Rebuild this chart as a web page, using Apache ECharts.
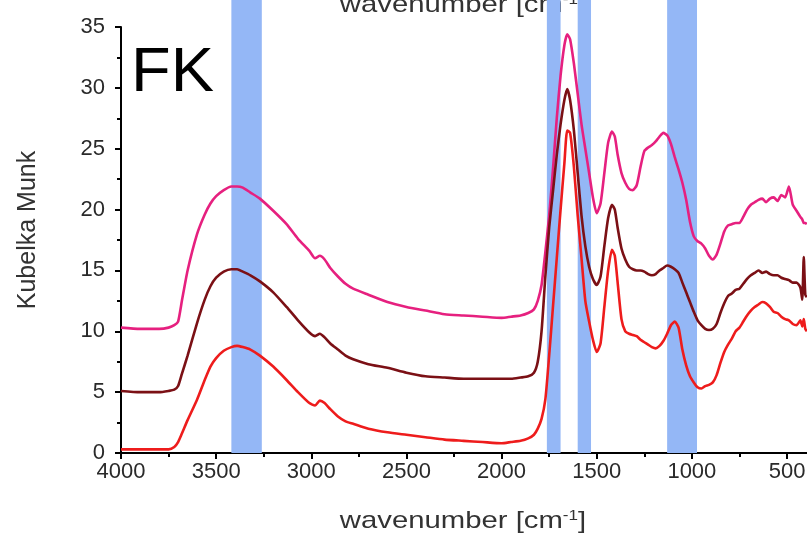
<!DOCTYPE html>
<html>
<head>
<meta charset="utf-8">
<script src="https://cdn.jsdelivr.net/npm/echarts@6/dist/echarts.min.js"></script>
<style>
  html, body { margin: 0; padding: 0; background: #fff; }
  #chart { width: 807px; height: 535px; }
</style>
</head>
<body>
<div id="chart"></div>
<script>
// wavenumber grid shared by the three spectra (cm-1)
const wavenumbers = [4000, 3900, 3800, 3750, 3720, 3700, 3680, 3650, 3600, 3560, 3530, 3500, 3460, 3420, 3390, 3360, 3320, 3270, 3200, 3130, 3070, 3010, 2980, 2955, 2930, 2900, 2860, 2820, 2780, 2700, 2600, 2500, 2400, 2300, 2200, 2100, 2000, 1950, 1900, 1860, 1830, 1810, 1790, 1770, 1750, 1730, 1710, 1690, 1670, 1655, 1640, 1620, 1600, 1580, 1560, 1540, 1520, 1500, 1480, 1460, 1440, 1420, 1405, 1390, 1370, 1350, 1330, 1310, 1290, 1270, 1250, 1230, 1210, 1190, 1170, 1150, 1130, 1110, 1090, 1070, 1050, 1030, 1010, 990, 970, 950, 930, 910, 890, 870, 850, 830, 810, 790, 770, 750, 730, 710, 690, 670, 650, 630, 610, 590, 570, 550, 530, 510, 490, 470, 450, 430, 420, 412, 404, 396];

// top spectrum (pink)
const pinkValues = [10.3, 10.2, 10.2, 10.3, 10.5, 10.8, 12.5, 15.0, 18.0, 19.6, 20.5, 21.1, 21.6, 21.9, 21.9, 21.8, 21.4, 20.9, 19.9, 18.8, 17.6, 16.6, 16.0, 16.2, 15.9, 15.2, 14.5, 13.9, 13.5, 13.0, 12.4, 12.0, 11.7, 11.4, 11.3, 11.2, 11.1, 11.2, 11.3, 11.5, 11.8, 12.5, 13.8, 16.5, 19.5, 23.3, 27.5, 31.0, 33.5, 34.4, 34.0, 32.0, 29.5, 27.0, 25.0, 23.0, 21.0, 19.7, 20.5, 23.0, 25.5, 26.4, 26.0, 24.5, 23.0, 22.2, 21.7, 21.6, 22.0, 23.5, 24.8, 25.1, 25.3, 25.6, 26.0, 26.3, 26.1, 25.4, 24.3, 23.3, 22.2, 20.8, 19.0, 17.8, 17.4, 17.2, 16.8, 16.2, 15.9, 16.3, 17.2, 18.2, 18.7, 18.8, 18.9, 18.9, 19.4, 20.0, 20.4, 20.6, 20.8, 20.9, 20.6, 20.9, 21.0, 20.7, 21.2, 21.0, 21.9, 20.4, 19.9, 19.4, 19.2, 18.9, 18.9, 18.8];

// middle spectrum (dark red)
const darkRedValues = [5.1, 5.0, 5.0, 5.1, 5.2, 5.5, 6.5, 8.0, 10.7, 12.6, 13.7, 14.4, 14.9, 15.1, 15.1, 14.9, 14.6, 14.1, 13.2, 12.0, 10.9, 9.9, 9.6, 9.8, 9.5, 9.0, 8.5, 8.0, 7.7, 7.3, 7.0, 6.6, 6.3, 6.2, 6.1, 6.1, 6.1, 6.1, 6.2, 6.3, 6.6, 7.5, 10.0, 14.5, 18.5, 21.5, 24.5, 27.0, 29.0, 29.9, 29.0, 26.5, 23.0, 19.5, 17.0, 15.3, 14.3, 13.8, 14.5, 17.0, 19.3, 20.4, 20.0, 18.5, 16.8, 15.9, 15.3, 15.1, 15.0, 15.0, 14.9, 14.7, 14.6, 14.7, 15.0, 15.2, 15.4, 15.3, 15.1, 14.8, 14.0, 13.2, 12.4, 11.6, 10.9, 10.5, 10.2, 10.1, 10.2, 10.6, 11.5, 12.3, 12.9, 13.1, 13.4, 13.5, 13.9, 14.3, 14.6, 14.8, 15.0, 14.8, 14.9, 14.7, 14.6, 14.6, 14.4, 14.3, 14.2, 14.0, 14.0, 13.6, 12.6, 16.1, 13.0, 12.8];

// bottom spectrum (red)
const redValues = [0.3, 0.3, 0.3, 0.3, 0.5, 0.9, 1.6, 2.7, 4.4, 6.0, 7.1, 7.8, 8.4, 8.7, 8.8, 8.7, 8.5, 8.0, 7.1, 6.0, 5.0, 4.1, 3.9, 4.3, 4.1, 3.6, 3.0, 2.6, 2.4, 2.0, 1.7, 1.5, 1.3, 1.1, 1.0, 0.9, 0.8, 0.9, 1.0, 1.2, 1.5, 2.0, 2.8, 4.4, 8.0, 12.0, 16.0, 20.0, 23.8, 26.5, 26.3, 23.5, 19.5, 16.0, 12.5, 10.8, 9.3, 8.3, 9.0, 12.0, 15.0, 16.7, 16.2, 14.0, 11.0, 10.0, 9.8, 9.7, 9.6, 9.3, 9.1, 8.9, 8.7, 8.6, 8.8, 9.2, 9.8, 10.5, 10.8, 10.3, 8.5, 7.2, 6.3, 5.8, 5.4, 5.3, 5.5, 5.6, 5.8, 6.4, 7.4, 8.3, 8.9, 9.4, 10.0, 10.3, 10.8, 11.3, 11.7, 12.0, 12.2, 12.4, 12.3, 12.0, 11.6, 11.5, 11.2, 11.0, 10.9, 10.6, 10.5, 10.9, 10.4, 11.0, 10.2, 10.0];

// highlighted bands [from, to] in cm-1
const bands = [[3420, 3260], [1762, 1690], [1600, 1530], [1130, 973]];

const xMajorTicks = [500, 1000, 1500, 2000, 2500, 3000, 3500, 4000];
const xMinorTicks = [750, 1250, 1750, 2250, 2750, 3250, 3750];

const xMin = 395;
const xMax = 4000;

const pair = (vals) => wavenumbers.map((w, i) => [w, vals[i]]);

const myChart = echarts.init(document.getElementById("chart"));

const labelFont = "'Liberation Sans', Arial, sans-serif";

const option = {
  animation: false,
  grid: [
    { left: 121, right: 0, top: 27, bottom: 82, outerBoundsMode: "none", containLabel: false },
    { left: 121, right: 0, top: 0, bottom: 82, outerBoundsMode: "none", containLabel: false },
  ],
  xAxis: [
    {
      gridIndex: 0,
      type: "value",
      min: xMin,
      max: xMax,
      inverse: true,
      splitLine: { show: false },
      axisLine: { lineStyle: { color: "#000", width: 2 } },
      axisTick: {
        customValues: xMajorTicks,
        length: 6,
        lineStyle: { color: "#000", width: 2 },
      },
      axisLabel: {
        customValues: xMajorTicks,
        formatter: (v) => String(v),
        color: "#2a2a2a",
        fontSize: 22,
        fontFamily: labelFont,
        margin: 8,
      },
    },
    {
      // minor ticks only
      gridIndex: 0,
      type: "value",
      min: xMin,
      max: xMax,
      inverse: true,
      position: "bottom",
      splitLine: { show: false },
      axisLine: { show: false },
      axisTick: {
        customValues: xMinorTicks,
        length: 4,
        lineStyle: { color: "#000", width: 2 },
      },
      axisLabel: { show: false },
    },
    {
      gridIndex: 1,
      type: "value",
      min: xMin,
      max: xMax,
      inverse: true,
      show: false,
    },
  ],
  yAxis: [
    {
      gridIndex: 0,
      type: "value",
      min: 0,
      max: 35,
      interval: 5,
      splitLine: { show: false },
      axisLine: { show: true, lineStyle: { color: "#000", width: 2 } },
      axisTick: { show: true, length: 6, lineStyle: { color: "#000", width: 2 } },
      minorTick: { show: true, splitNumber: 2, length: 4, lineStyle: { color: "#000", width: 2 } },
      axisLabel: {
        color: "#2a2a2a",
        fontSize: 22,
        fontFamily: labelFont,
        margin: 16,
      },
    },
    {
      // band area reaches the top of the picture, above 35
      gridIndex: 1,
      type: "value",
      min: 0,
      max: (35 * 453) / 426,
      show: false,
    },
  ],
  series: [
    {
      type: "line",
      xAxisIndex: 2,
      yAxisIndex: 1,
      data: [],
      silent: true,
      z: 1,
      markArea: {
        silent: true,
        itemStyle: { color: "#94b7f6", opacity: 1 },
        data: bands.map((b) => [{ xAxis: b[0] }, { xAxis: b[1] }]),
      },
    },
    {
      name: "FK top",
      type: "line",
      data: pair(pinkValues),
      showSymbol: false,
      smooth: 0.2,
      z: 4,
      lineStyle: { color: "#e6207f", width: 2.6 },
    },
    {
      name: "FK middle",
      type: "line",
      data: pair(darkRedValues),
      showSymbol: false,
      smooth: 0.2,
      z: 4,
      lineStyle: { color: "#7b1015", width: 2.6 },
    },
    {
      name: "FK bottom",
      type: "line",
      data: pair(redValues),
      showSymbol: false,
      smooth: 0.2,
      z: 4,
      lineStyle: { color: "#ee1c1c", width: 2.6 },
    },
  ],
  graphic: [
    {
      type: "text",
      x: 131,
      y: 105,
      scaleX: 1.03,
      z: 10,
      style: {
        text: "FK",
        font: "63px 'Liberation Sans', Arial, sans-serif",
        fill: "#000",
        verticalAlign: "bottom",
      },
    },
    {
      type: "text",
      x: 28,
      y: 230,
      rotation: Math.PI / 2,
      z: 10,
      style: {
        text: "Kubelka Munk",
        font: "25px 'Liberation Sans', Arial, sans-serif",
        fill: "#333",
        align: "center",
        verticalAlign: "middle",
      },
    },
    {
      type: "text",
      x: 463,
      y: 521,
      scaleX: 1.22,
      z: 10,
      style: {
        text: "{a|wavenumber [cm}{s|-1}{a|]}",
        fill: "#333",
        align: "center",
        verticalAlign: "middle",
        rich: {
          a: { fontSize: 24, fontFamily: labelFont, color: "#333" },
          s: { fontSize: 14, fontFamily: labelFont, color: "#333", verticalAlign: "top" },
        },
      },
    },
    {
      type: "text",
      x: 463,
      y: 5,
      scaleX: 1.22,
      z: 0,
      style: {
        text: "{a|wavenumber [cm}{s|-1}{a|]}",
        fill: "#333",
        align: "center",
        verticalAlign: "middle",
        rich: {
          a: { fontSize: 24, fontFamily: labelFont, color: "#333" },
          s: { fontSize: 14, fontFamily: labelFont, color: "#333", verticalAlign: "top" },
        },
      },
    },
  ],
};

myChart.setOption(option);
</script>
</body>
</html>
